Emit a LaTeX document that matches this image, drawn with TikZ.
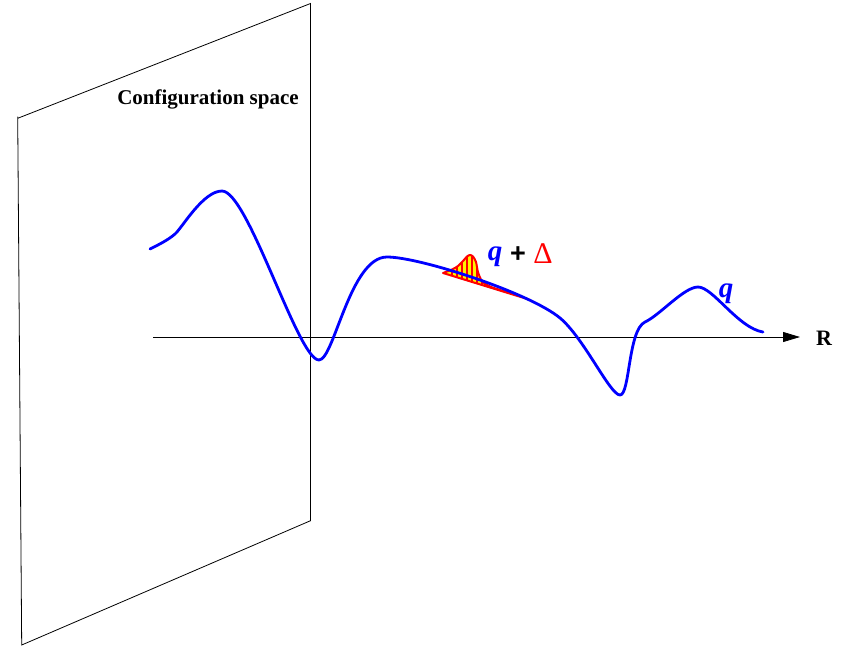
\documentclass[tikz,border=0pt]{standalone}
\usepackage{fontspec}
\setmainfont{Liberation Serif}
\newfontfamily\lsans{Liberation Sans}
\usetikzlibrary{arrows.meta}
\begin{document}
\begin{tikzpicture}[x=1pt,y=-1pt,
  planeline/.style={draw=black,line width=0.8pt},
  wave/.style={draw=blue,line width=2.8pt,line cap=round},
  lbl/.style={inner sep=0pt,anchor=center},
]
\useasboundingbox (0,0) rectangle (845,646);
% plane
\draw[planeline] (17.7,116.5) -- (17.7,118.3) -- (310.5,3.5) -- (310.5,520.7) -- (21.7,645) -- (17.7,118.3);
\node[lbl,font=\bfseries\fontsize{21}{24}\selectfont] (cs) at (208,99) {Configuration space};
% axis
\coordinate (ax0) at (153,337);
\coordinate (ax1) at (800,337);
\draw[line width=0.8pt,-{Triangle[length=17pt,width=10pt]}] (ax0) -- (ax1);
\node[lbl,font=\bfseries\fontsize{22}{26}\selectfont] (R) at (824,338) {R};
% gaussian packet
\def\gtop{(443,273) (452,269.5) (458,266) (463,261) (467,256.5) (470,255) (473,256.5) (476,262) (478,272) (482,281) (490,286.5) (505,291.5) (529,299.5)}
\fill[yellow] plot[smooth,tension=0.5] coordinates {\gtop} -- cycle;
\begin{scope}
\clip plot[smooth,tension=0.5] coordinates {\gtop} -- cycle;
\foreach \xx in {452,457,...,487} \draw[red,line width=1.4pt] (\xx,240) -- (\xx,310);
\end{scope}
\draw[red,line width=2pt,line join=round] plot[smooth,tension=0.5] coordinates {\gtop} -- cycle;
% wave
\draw[wave] (150,249)
  .. controls (160,244) and (168,240) .. (175,234)
  .. controls (182,228) and (203,191) .. (222,191)
  .. controls (248,191) and (298,360) .. (319,360)
  .. controls (334,360) and (350,257) .. (387,257)
  .. controls (420,257) and (530,293) .. (560,318)
  .. controls (584,338) and (610,395) .. (620,395)
  .. controls (630,395) and (628,330) .. (645,322)
  .. controls (660,315) and (684,287) .. (698,287)
  .. controls (713,287) and (738,328) .. (763,332);
% labels
\node[lbl,text=blue,font=\bfseries\itshape\fontsize{29}{32}\selectfont] (q1) at (495,257) {q};
\node[lbl,font=\lsans\bfseries\fontsize{27}{30}\selectfont] (plus) at (518,255) {+};
\node[lbl,text=red,font=\fontsize{30}{32}\selectfont] (delta) at (543,254) {Δ};
\node[lbl,text=blue,font=\bfseries\itshape\fontsize{29}{32}\selectfont] (q2) at (726,294) {q};
\end{tikzpicture}
\end{document}
